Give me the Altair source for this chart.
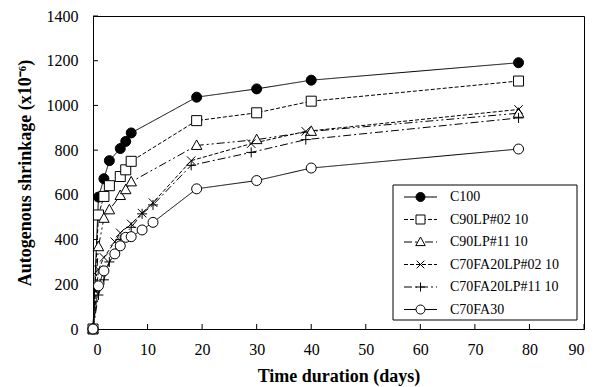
import altair as alt
import pandas as pd

series = ["C100", "C90LP#02 10", "C90LP#11 10", "C70FA20LP#02 10", "C70FA20LP#11 10", "C70FA30"]

days_c100 = [0, 1, 2, 3, 5, 6, 7, 19, 30, 40, 78]
vals_c100 = [0, 590, 672, 753, 807, 839, 877, 1037, 1074, 1113, 1191]

days_c90_02 = [0, 1, 2, 3, 5, 6, 7, 19, 30, 40, 78]
vals_c90_02 = [0, 510, 593, 641, 682, 712, 750, 932, 967, 1019, 1109]

days_c90_11 = [0, 1, 2, 3, 5, 6, 7, 19, 30, 40, 78]
vals_c90_11 = [0, 368, 495, 533, 597, 623, 658, 821, 847, 884, 965]

days_c70_02 = [0, 1, 2, 4, 5, 7, 9, 11, 18, 29, 39, 78]
vals_c70_02 = [0, 265, 320, 390, 430, 470, 518, 565, 753, 829, 884, 982]

days_c70_11 = [0, 1, 2, 3, 5, 7, 9, 11, 18, 29, 39, 78]
vals_c70_11 = [0, 152, 220, 300, 400, 455, 515, 555, 732, 790, 847, 944]

days_c70fa30 = [0, 1, 2, 4, 5, 6, 7, 9, 11, 19, 30, 40, 78]
vals_c70fa30 = [0, 193, 260, 336, 372, 410, 413, 443, 477, 627, 664, 720, 805]

x_ticks = list(range(0, 91, 10))
y_ticks = list(range(0, 1401, 200))

all_days = [days_c100, days_c90_02, days_c90_11, days_c70_02, days_c70_11, days_c70fa30]
all_vals = [vals_c100, vals_c90_02, vals_c90_11, vals_c70_02, vals_c70_11, vals_c70fa30]

rows = []
for name, ds, vs in zip(series, all_days, all_vals):
    for d, v in zip(ds, vs):
        rows.append({"series": name, "day": d, "value": v})
df = pd.DataFrame(rows)
xt_df = pd.DataFrame({"xt": x_ticks})
yt_df = pd.DataFrame({"yt": y_ticks})
leg_df = pd.DataFrame({"series": series})
box_df = pd.DataFrame({"k": [0]})

dashes = [[1, 0], [4, 2], [8, 3, 2, 3, 2, 3], [4, 2], [8, 3, 2, 3], [1, 0]]
fills = ["black", "white", "white", "white", "white", "white"]

circle = "M-1,0A1,1 0 1,0 1,0A1,1 0 1,0 -1,0Z"
square = "M-1,-1L1,-1L1,1L-1,1Z"
tri = "M0,-1.1L1.05,0.8L-1.05,0.8Z"
xmark = "M-0.85,-0.85L0.85,0.85M-0.85,0.85L0.85,-0.85"
plus = "M-1,0L1,0M0,-1L0,1"
marker_paths = [circle, square, tri, xmark, plus, circle]

W, H = 491, 313
TICK = 5
xs = alt.Scale(domain=[0, 90], nice=False)
ys = alt.Scale(domain=[0, 1400], nice=False)
dash_enc = alt.StrokeDash("series:N", scale=alt.Scale(domain=series, range=dashes), legend=None)
shape_enc = alt.Shape("series:N", scale=alt.Scale(domain=series, range=marker_paths), legend=None)
fill_enc = alt.Fill("series:N", scale=alt.Scale(domain=series, range=fills), legend=None)

lines = alt.Chart(df).mark_line(color="black", strokeWidth=1).encode(
    x=alt.X("day:Q", scale=xs, axis=alt.Axis(
        orient="bottom", values=x_ticks, ticks=False, tickSize=0, labelPadding=12, format="d",
        title="Time duration (days)", titlePadding=10, grid=False)),
    y=alt.Y("value:Q", scale=ys, axis=alt.Axis(
        orient="left", values=y_ticks, ticks=False, tickSize=0, labelPadding=15, format="d",
        title="Autogenous shrinkage (x10⁻⁶)", titlePadding=12, grid=False)),
    strokeDash=dash_enc,
    detail="series:N",
)

# inward-pointing tick marks placed through the axis scales
xtick_layer = alt.Chart(xt_df).transform_calculate(
    ty=f"{H}", ty2=f"{H - TICK}"
).mark_rule(color="black", strokeWidth=1).encode(
    x=alt.X("xt:Q", scale=xs),
    x2=alt.X2("xt"),
    y=alt.Y("ty:Q", scale=None, axis=None),
    y2=alt.Y2("ty2"),
)
ytick_layer = alt.Chart(yt_df).transform_calculate(
    tx="0", tx2=f"{TICK}"
).mark_rule(color="black", strokeWidth=1).encode(
    y=alt.Y("yt:Q", scale=ys),
    y2=alt.Y2("yt"),
    x=alt.X("tx:Q", scale=None, axis=None),
    x2=alt.X2("tx2"),
)

points = alt.Chart(df).mark_point(filled=True, stroke="black", strokeWidth=1, size=100, opacity=1).encode(
    x=alt.X("day:Q", scale=xs),
    y=alt.Y("value:Q", scale=ys),
    shape=shape_enc,
    fill=fill_enc,
)

# legend drawn inside the plot, rows taken from the series list
LX0, LX1, LY0, LY1 = 300, 484, 169, 304
ROW0, ROWSTEP = 181, 22.5
legend_base = alt.Chart(leg_df).transform_window(
    rn="row_number()"
).transform_calculate(ly=f"{ROW0} + (datum.rn - 1) * {ROWSTEP}")

legend_box = alt.Chart(box_df).mark_rect(fill="white", stroke="black", strokeWidth=1).encode(
    x=alt.value(LX0), x2=alt.value(LX1), y=alt.value(LY0), y2=alt.value(LY1),
)
legend_lines = legend_base.mark_rule(color="black", strokeWidth=1).encode(
    x=alt.value(311), x2=alt.value(344),
    y=alt.Y("ly:Q", scale=None, axis=None),
    strokeDash=dash_enc,
)
legend_marks = legend_base.mark_point(filled=True, stroke="black", strokeWidth=1, size=81, opacity=1).encode(
    x=alt.value(327.5),
    y=alt.Y("ly:Q", scale=None, axis=None),
    shape=shape_enc,
    fill=fill_enc,
)
legend_text = legend_base.mark_text(
    align="left", baseline="middle", font="Liberation Serif", fontSize=14, color="black"
).encode(
    x=alt.value(357),
    y=alt.Y("ly:Q", scale=None, axis=None),
    text="series:N",
)

chart = alt.layer(
    lines, xtick_layer, ytick_layer, points,
    legend_box, legend_lines, legend_marks, legend_text
).properties(
    width=W, height=H,
    background="white",
    autosize=alt.AutoSizeParams(type="none"),
    padding={"left": 93, "top": 16, "right": 19, "bottom": 58},
).configure_view(stroke="black", strokeWidth=1).configure_axis(
    labelFont="Liberation Serif", labelFontSize=16, labelColor="black",
    titleFont="Liberation Serif", titleFontSize=18, titleFontWeight="bold", titleColor="black",
    domainColor="black", tickColor="black", domainWidth=1,
)

chart.save("out.html", embed_options={"renderer": "svg", "actions": False})
